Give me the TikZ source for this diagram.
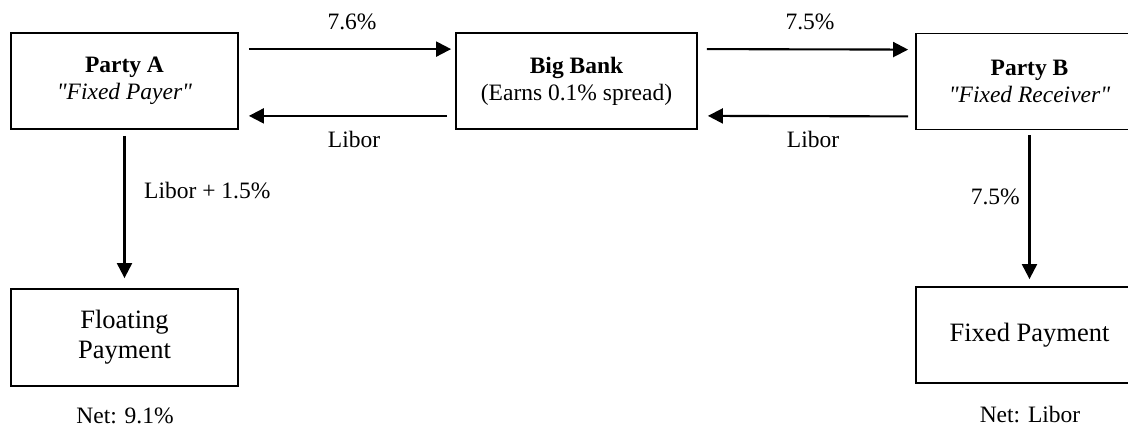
\documentclass[tikz,border=0pt]{standalone}
\usepackage{fontspec}
\setmainfont{Liberation Serif}
\usetikzlibrary{arrows.meta}
\begin{document}
\begin{tikzpicture}[x=1pt,y=-1pt,
  boxnode/.style={draw, line width=1.8pt, minimum width=227pt, minimum height=96pt,
    inner sep=0pt, align=center, font=\fontsize{23.5}{27}\selectfont},
  paybox/.style={boxnode, font=\fontsize{26.5}{30}\selectfont},
  flow/.style={line width=2.1pt, -{Triangle[length=15pt,width=15pt]}},
  lbl/.style={font=\fontsize{23.5}{27}\selectfont, inner sep=0pt, anchor=base}]
\useasboundingbox (0,0) rectangle (1128,427);
% boxes
\node[boxnode] (pa) at (124.5,81) {\textbf{Party A}\\\textit{\textquotedbl Fixed Payer\textquotedbl}};
\node[boxnode, minimum width=241pt] (bb) at (576.5,81) {\textbf{Big Bank}\\(Earns 0.1\% spread)};
\node[boxnode] (pb) at (1029.5,81.5) {\textbf{Party B}\\\textit{\textquotedbl Fixed Receiver\textquotedbl}};
\node[paybox, minimum height=97pt] (fl) at (124.5,337.5) {Floating\\Payment};
\node[paybox] (fx) at (1029.5,335) {Fixed Payment};
% horizontal flows
\draw[flow] ([xshift=10pt,yshift=-17pt]pa.north east) -- ([xshift=-4pt,yshift=-17pt]bb.north west);
\draw[flow] ([xshift=-8pt,yshift=14pt]bb.south west) -- ([xshift=10pt,yshift=14pt]pa.south east);
\draw[flow] ([xshift=9pt,yshift=-17pt]bb.north east) -- ([xshift=-7pt,yshift=-17pt]pb.north west);
\draw[flow] ([xshift=-7pt,yshift=14pt]pb.south west) -- ([xshift=10pt,yshift=14pt]bb.south east);
% vertical flows
\draw[flow] ([yshift=-6pt]pa.south) -- ([yshift=10pt]fl.north);
\draw[flow] ([yshift=-5pt]pb.south) -- ([yshift=7pt]fx.north);
% labels
\node[lbl] (l76) at (352,30) {7.6\%};
\node[lbl] (llA) at (354,148) {Libor};
\node[lbl] (l75) at (810,30) {7.5\%};
\node[lbl] (llB) at (813,148) {Libor};
\node[lbl, anchor=base west] (lfl) at (144,199) {Libor + 1.5\%};
\node[lbl, anchor=base east] (lfx) at (1020,205) {7.5\%};
\node[lbl] (n1) at (125,424) {Net: 9.1\%};
\node[lbl] (n2) at (1030,423) {Net: Libor};
\end{tikzpicture}
\end{document}
